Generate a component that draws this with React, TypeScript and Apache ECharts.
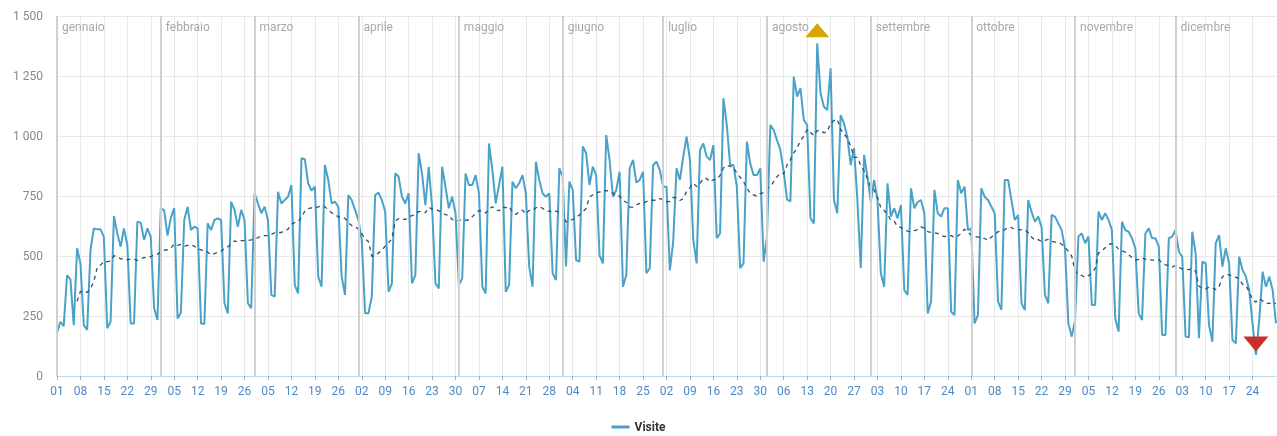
import { useEffect, useRef } from "react";
import * as echarts from "echarts";

const YEAR = 2021;
const MONTH_NAMES = [
  "gennaio", "febbraio", "marzo", "aprile", "maggio", "giugno",
  "luglio", "agosto", "settembre", "ottobre", "novembre", "dicembre",
];

const jan = [178, 226, 208, 420, 403, 212, 532, 470, 212, 192, 525, 615, 611, 611, 580, 199, 226, 667, 594, 539, 615, 546, 219, 219, 643, 639, 567, 615, 580, 282, 233];
const feb = [699, 690, 585, 660, 700, 240, 265, 650, 705, 608, 622, 615, 219, 217, 636, 608, 650, 657, 650, 303, 261, 726, 692, 622, 692, 650, 303, 282];
const mar = [761, 719, 678, 705, 650, 338, 331, 768, 719, 733, 747, 796, 379, 344, 907, 903, 803, 772, 789, 414, 372, 879, 817, 719, 726, 706, 414, 338, 754, 733, 692];
const apr = [650, 567, 261, 261, 331, 754, 764, 733, 685, 351, 386, 844, 831, 747, 719, 761, 386, 420, 928, 844, 712, 872, 706, 386, 365, 872, 789, 699, 747, 678];
const may = [379, 407, 844, 796, 796, 837, 761, 372, 344, 969, 858, 719, 796, 872, 351, 379, 810, 782, 803, 837, 761, 456, 372, 893, 817, 760, 747, 761, 428, 400, 865];
const jun = [831, 456, 810, 775, 483, 476, 956, 928, 796, 872, 837, 504, 469, 1004, 900, 747, 775, 851, 372, 421, 865, 900, 806, 817, 851, 428, 449, 879, 893, 858];
const jul = [789, 789, 440, 560, 865, 817, 914, 997, 900, 567, 469, 942, 969, 914, 900, 962, 574, 594, 1157, 1046, 879, 879, 789, 449, 469, 976, 886, 837, 837, 865, 476];
const aug = [581, 1046, 1025, 983, 942, 850, 735, 728, 1247, 1164, 1199, 1067, 1046, 657, 636, 1386, 1178, 1122, 1108, 1282, 733, 678, 1087, 1053, 997, 879, 949, 733, 449, 921, 831];
const sep = [726, 817, 733, 428, 372, 803, 664, 699, 657, 712, 358, 338, 782, 699, 725, 733, 678, 261, 310, 775, 678, 664, 699, 699, 268, 254, 817, 761, 789, 608];
const oct = [615, 219, 254, 782, 747, 733, 706, 678, 310, 275, 817, 817, 733, 650, 671, 303, 275, 733, 685, 643, 664, 620, 338, 303, 671, 664, 636, 608, 532, 219, 164];
const nov = [233, 581, 594, 553, 581, 296, 296, 685, 650, 678, 650, 608, 240, 185, 643, 608, 601, 574, 532, 261, 233, 594, 615, 574, 574, 539, 171, 171, 574, 581];
const dec = [608, 518, 497, 164, 161, 601, 511, 157, 476, 469, 212, 143, 553, 587, 456, 532, 469, 150, 136, 497, 442, 414, 358, 219, 88, 233, 435, 372, 414, 358, 219];

const MONTHS = [jan, feb, mar, apr, may, jun, jul, aug, sep, oct, nov, dec];
const SERIES_NAME = "Visite";
const MA_WINDOW = 7;

const pad = (n: number) => (n < 10 ? "0" + n : String(n));

function fmtY(v: number): string {
  if (v >= 1000) {
    const th = Math.floor(v / 1000);
    const rest = v % 1000;
    return th + " " + String(rest).padStart(3, "0");
  }
  return String(v);
}

export default function App() {
  const ref = useRef<HTMLDivElement>(null);

  useEffect(() => {
    if (!ref.current) return;
    const chart = echarts.init(ref.current, null, { renderer: "svg" });

    const categories: string[] = [];
    const values: number[] = [];
    const monthStarts: string[] = [];
    MONTHS.forEach((arr, m) => {
      arr.forEach((v, i) => {
        const key = `${YEAR}-${pad(m + 1)}-${pad(i + 1)}`;
        if (i === 0) monthStarts.push(key);
        categories.push(key);
        values.push(v);
      });
    });
    const ma = values.map((_, i) => {
      if (i < MA_WINDOW - 1) return null;
      let s = 0;
      for (let k = i - MA_WINDOW + 1; k <= i; k++) s += values[k];
      return Math.round(s / MA_WINDOW);
    });
    const last = categories.length - 1;
    const weekly = (idx: number) => idx % 7 === 0 && idx < last - 2;

    const areas = monthStarts.map((start, m) => [
      { name: MONTH_NAMES[m], xAxis: start },
      { xAxis: m < 11 ? monthStarts[m + 1] : categories[last] },
    ]);

    chart.setOption({
      animation: false,
      textStyle: { fontFamily: "Roboto, 'Noto Sans', sans-serif" },
      grid: { left: 57, right: 1, top: 16, bottom: 60 },
      legend: {
        data: [SERIES_NAME],
        top: 416,
        left: "center",
        icon: "rect",
        itemWidth: 18,
        itemHeight: 3,
        itemGap: 10,
        textStyle: { color: "#333", fontSize: 12, fontWeight: "bold" },
      },
      xAxis: {
        type: "category",
        data: categories,
        boundaryGap: false,
        axisLine: { lineStyle: { color: "#c3d6ea", width: 1 } },
        axisTick: { show: true, interval: weekly, length: 4, lineStyle: { color: "#8db3da" } },
        axisLabel: {
          interval: weekly,
          color: "#4d8ac6",
          fontSize: 12,
          margin: 9,
          formatter: (v: string) => v.slice(8, 10),
        },
        splitLine: { show: true, interval: weekly, lineStyle: { color: "#e8e8e8", width: 1 } },
      },
      yAxis: {
        type: "value",
        min: 0,
        max: 1500,
        interval: 250,
        axisLine: { show: false },
        axisTick: { show: false },
        axisLabel: { color: "#8a8a8a", fontSize: 12, margin: 14, formatter: fmtY },
        splitLine: { lineStyle: { color: "#e8e8e8", width: 1 } },
      },
      series: [
        {
          name: SERIES_NAME,
          type: "line",
          data: values,
          symbol: "none",
          z: 3,
          lineStyle: { color: "#4ba2c8", width: 2 },
          itemStyle: { color: "#4ba2c8" },
          markLine: {
            silent: true,
            symbol: ["none", "none"],
            label: { show: false },
            lineStyle: { color: "#d0d0d0", width: 2, type: "solid" },
            data: monthStarts.map((s) => ({ xAxis: s })),
          },
          markArea: {
            silent: true,
            itemStyle: { color: "rgba(0,0,0,0)" },
            label: {
              show: true,
              position: "insideTopLeft",
              distance: 5,
              color: "#a8a8a8",
              fontSize: 12,
            },
            data: areas,
          },
          markPoint: {
            silent: true,
            label: { show: false },
            data: [
              {
                type: "max",
                symbol: "triangle",
                symbolSize: [24, 14],
                symbolOffset: [0, -13],
                itemStyle: { color: "#d7a500" },
              },
              {
                type: "min",
                symbol: "path://M0,0 L24,0 L12,15 Z",
                symbolSize: [25, 15],
                symbolOffset: [0, -11],
                itemStyle: { color: "#c9302c" },
              },
            ],
          },
        },
        {
          name: "media",
          type: "line",
          data: ma,
          symbol: "none",
          z: 4,
          lineStyle: { color: "#2d4f70", width: 1.3, type: [4, 4] },
          itemStyle: { color: "#2d4f70" },
        },
      ],
    });

    return () => chart.dispose();
  }, []);

  return (
    <div
      ref={ref}
      style={{ position: "fixed", left: 0, top: 0, width: 1277, height: 436 }}
    />
  );
}
